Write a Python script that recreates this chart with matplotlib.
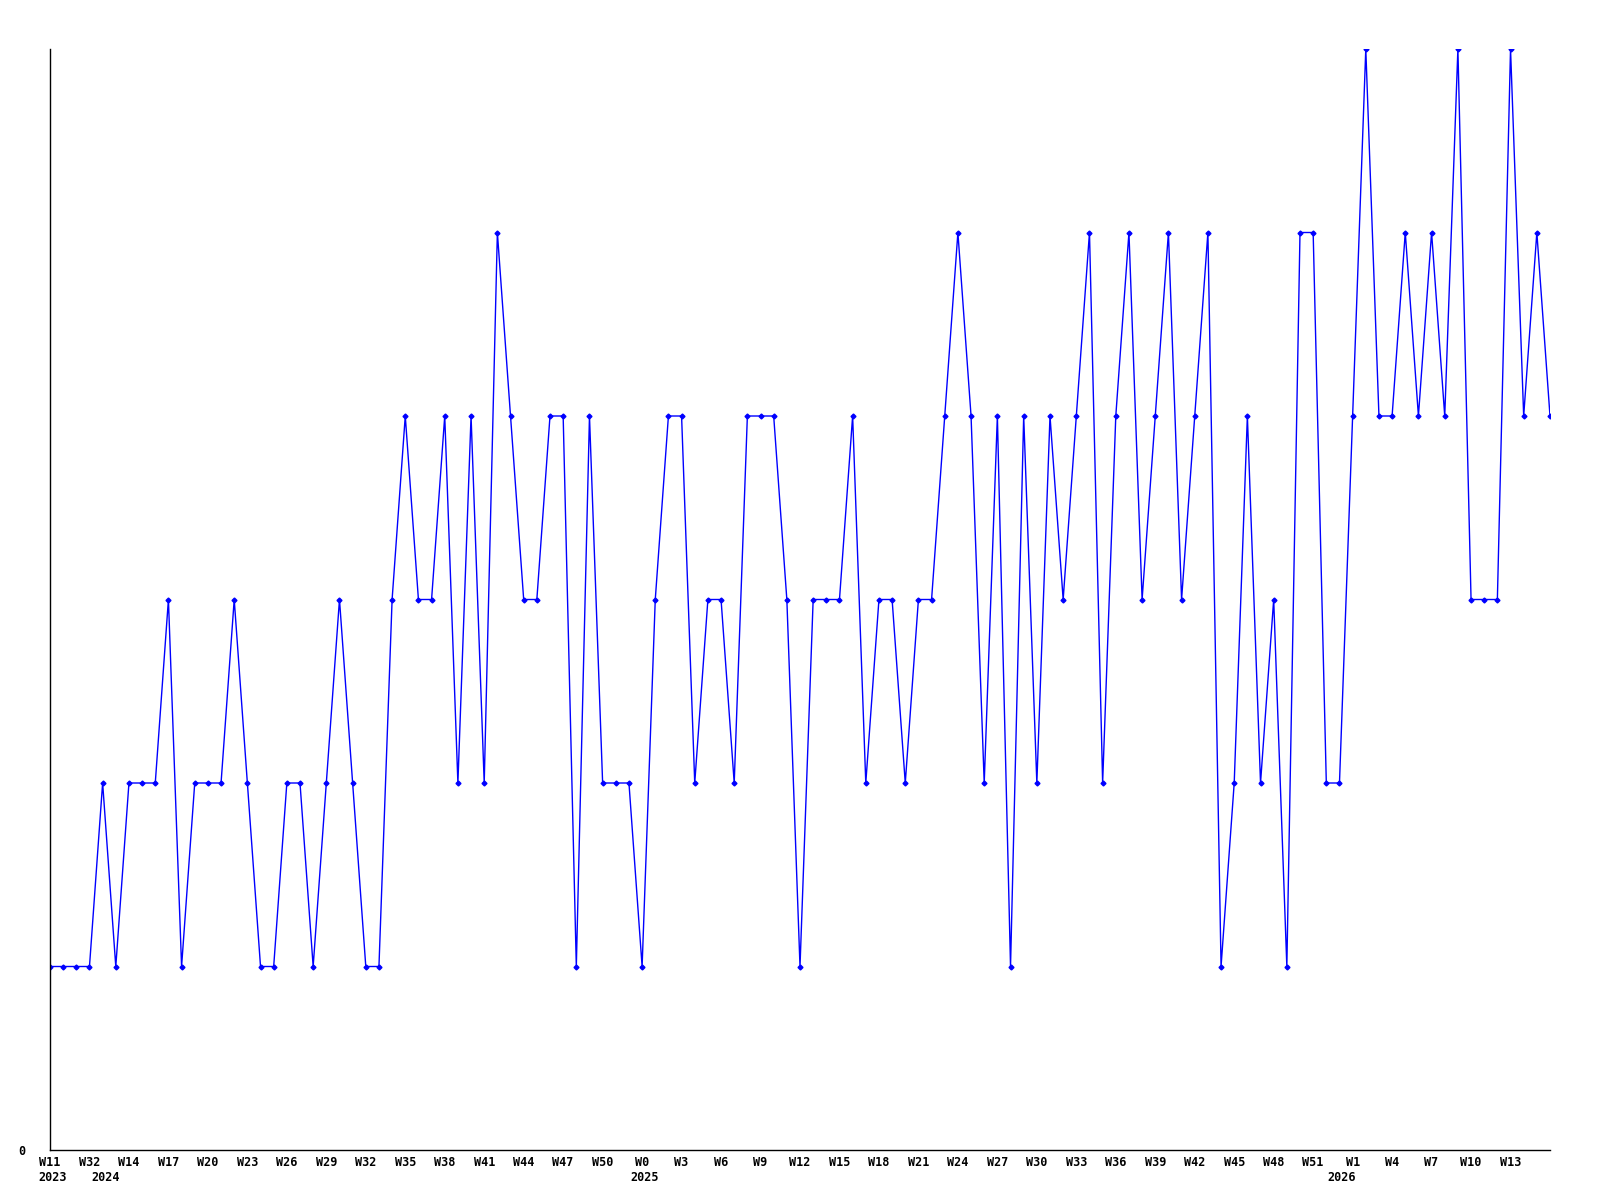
import matplotlib
matplotlib.use("Agg")
import matplotlib.pyplot as plt
import numpy as np

values = [1, 1, 1, 1, 2, 1, 2, 2, 2, 3,
          1, 2, 2, 2, 3, 2, 1, 1, 2, 2,
          1, 2, 3, 2, 1, 1, 3, 4, 3, 3,
          4, 2, 4, 2, 5, 4, 3, 3, 4, 4,
          1, 4, 2, 2, 2, 1, 3, 4, 4, 2,
          3, 3, 2, 4, 4, 4, 3, 1, 3, 3,
          3, 4, 2, 3, 3, 2, 3, 3, 4, 5,
          4, 2, 4, 1, 4, 2, 4, 3, 4, 5,
          2, 4, 5, 3, 4, 5, 3, 4, 5, 1,
          2, 4, 2, 3, 1, 5, 5, 2, 2, 4,
          6, 4, 4, 5, 4, 5, 4, 6, 3, 3,
          3, 6, 4, 5, 4]

tick_labels = ["W11", "W32", "W14", "W17", "W20", "W23", "W26", "W29", "W32",
               "W35", "W38", "W41", "W44", "W47", "W50", "W0", "W3", "W6", "W9",
               "W12", "W15", "W18", "W21", "W24", "W27", "W30", "W33", "W36",
               "W39", "W42", "W45", "W48", "W51", "W1", "W4", "W7", "W10", "W13"]
tick_step = 3

year_labels = ["2023", "2024", "2025", "2026"]
year_at_index = [0.2, 4.2, 45.2, 98.2]

x = np.arange(len(values))

fig = plt.figure(figsize=(16, 12), dpi=100)
ax = fig.add_axes([50 / 1600, 50 / 1200, 1500 / 1600, 1101 / 1200])

ax.plot(x, values, color="#0000ff", lw=1.0, marker="D", markersize=2.5,
        markerfacecolor="#0000ff", markeredgecolor="#0000ff")

ax.set_xlim(0, len(values) - 1)
ax.set_ylim(0, 6)

for s in ["top", "right"]:
    ax.spines[s].set_visible(False)
for s in ["left", "bottom"]:
    ax.spines[s].set_color("black")
    ax.spines[s].set_linewidth(1.0)

font = dict(family="DejaVu Sans Mono", weight="bold", size=8.5)

ax.set_xticks(x[::tick_step][:len(tick_labels)])
ax.set_xticklabels(tick_labels, **font)
ax.set_yticks([0])
ax.set_yticklabels(["0"], **font)
ax.tick_params(axis="both", length=0)
ax.tick_params(axis="x", pad=4)
ax.tick_params(axis="y", pad=18)

for lab, xi in zip(year_labels, year_at_index):
    ax.annotate(lab, xy=(xi, 0), xycoords=("data", "axes fraction"),
                xytext=(0, -15), textcoords="offset points",
                ha="center", va="top", **font)

fig.savefig("out.png", dpi=100, facecolor="white")
